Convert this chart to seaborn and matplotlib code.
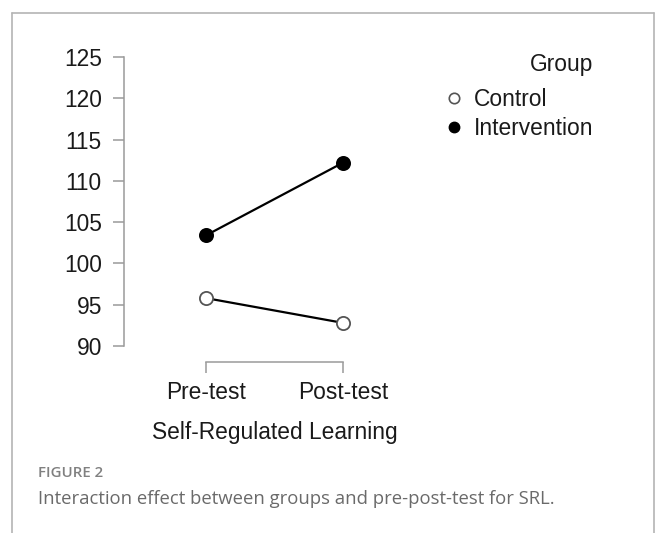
import matplotlib
matplotlib.use("Agg")
import matplotlib.pyplot as plt
from matplotlib.lines import Line2D
import seaborn as sns
import pandas as pd

# ---- data ----
times = ["Pre-test", "Post-test"]
control = [95.8, 92.8]
intervention = [103.4, 112.2]
groups = ["Control", "Intervention"]
y_ticks = [90, 95, 100, 105, 110, 115, 120, 125]

df = pd.DataFrame({
    "Time": times * 2,
    "Score": control + intervention,
    "Group": [groups[0]] * 2 + [groups[1]] * 2,
})

sns.set_theme(style="white")
plt.rcParams["font.family"] = ["Liberation Sans", "DejaVu Sans"]

W, H = 656, 533
fig = plt.figure(figsize=(W / 100, H / 100), dpi=100)

# outer frame of the figure panel
frame_col = "#b4b4b4"
fig.add_artist(Line2D([12 / W, 12 / W], [-0.1, 1 - 13 / H], transform=fig.transFigure,
                      color=frame_col, lw=1.2))
fig.add_artist(Line2D([12 / W, 654 / W], [1 - 13 / H, 1 - 13 / H], transform=fig.transFigure,
                      color=frame_col, lw=1.2))
fig.add_artist(Line2D([654 / W, 654 / W], [1 - 13 / H, -0.1], transform=fig.transFigure,
                      color=frame_col, lw=1.2))

ax_l, ax_r, ax_t, ax_b = 124, 430, 57, 362
ax = fig.add_axes([ax_l / W, 1 - ax_b / H, (ax_r - ax_l) / W, (ax_b - ax_t) / H])
ax.set_facecolor("none")

styles = {
    "Control": dict(markerfacecolor="white", markeredgecolor="#555555"),
    "Intervention": dict(markerfacecolor="black", markeredgecolor="black"),
}
for g in groups:
    sub = df[df["Group"] == g]
    sns.lineplot(data=sub, x="Time", y="Score", ax=ax, color="black", lw=1.6,
                 marker="o", markersize=9.5, markeredgewidth=1.3, sort=False,
                 clip_on=False, **styles[g])

# axis geometry (R-style detached axes)
px_per_cat = 137.0
ax.set_xlim(-(206 - ax_l) / px_per_cat, 1 + (ax_r - 343) / px_per_cat)
px_per_unit = (346 - 57) / 35.0
ax.set_ylim(90 - (ax_b - 346) / px_per_unit, 125)

for s in ["top", "right"]:
    ax.spines[s].set_visible(False)
spine_col = "#9a9a9a"
ax.spines["left"].set_bounds(90, 125)
ax.spines["bottom"].set_bounds(0, 1)
for s in ["left", "bottom"]:
    ax.spines[s].set_color(spine_col)
    ax.spines[s].set_linewidth(1.1)

ax.set_yticks(y_ticks)
ax.set_yticklabels([str(v) for v in y_ticks])
ax.set_xticks(range(len(times)))
ax.set_xticklabels(times)
ax.tick_params(axis="both", which="major", direction="out", length=8, width=1.1,
               color=spine_col, labelsize=16.4, labelcolor="#1a1a1a",
               bottom=True, left=True, top=False, right=False)
ax.tick_params(axis="y", pad=8)
ax.tick_params(axis="x", pad=5.5)
ax.set_ylabel("")
ax.set_xlabel("Self-Regulated Learning", fontsize=16.4, color="#1a1a1a")
ax.xaxis.label.set_va("center")
ax.xaxis.set_label_coords((275 - ax_l) / (ax_r - ax_l), -(432 - ax_b) / (ax_b - ax_t))

# legend
handles = [
    Line2D([], [], ls="none", marker="o", markersize=7.5, markerfacecolor="white",
           markeredgecolor="#555555", markeredgewidth=1.2),
    Line2D([], [], ls="none", marker="o", markersize=7.5, markerfacecolor="black",
           markeredgecolor="black"),
]
leg = ax.legend(handles, groups, title="Group", loc="upper left",
                bbox_to_anchor=(436 / W, 1 - 42 / H), bbox_transform=fig.transFigure,
                frameon=False, fontsize=16.4, title_fontsize=16.4, borderpad=0,
                handlelength=0.6, handletextpad=0.55, labelspacing=0.28,
                alignment="right")
leg._legend_box.sep = 8.0
leg.get_title().set_color("#1a1a1a")
for t in leg.get_texts():
    t.set_color("#1a1a1a")

# caption
cap_font = ["Open Sans", "DejaVu Sans"]
fig.text(38 / W, 1 - 473 / H, "FIGURE 2", fontsize=10.8, color="#808080",
         family=cap_font, weight="semibold", va="center", ha="left")
fig.text(38 / W, 1 - 499 / H, "Interaction effect between groups and pre-post-test for SRL.",
         fontsize=13.3, color="#6a6a6a", family=cap_font, va="center", ha="left")

fig.savefig("out.png", dpi=100)
